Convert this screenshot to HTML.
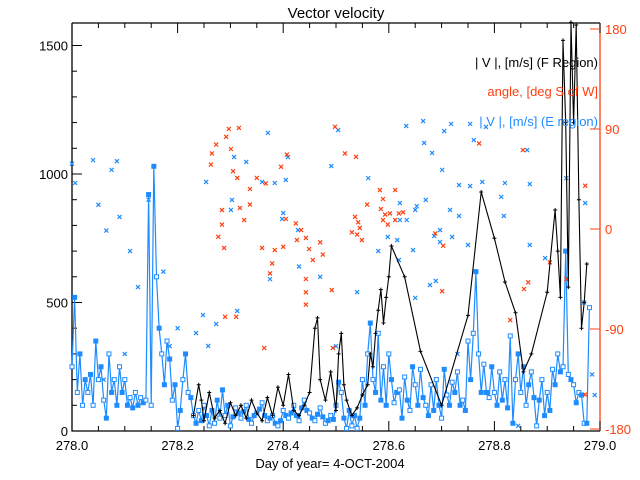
<!DOCTYPE html>
<html><head><meta charset="utf-8"><style>
body{margin:0;background:#fff;}
svg{display:block;font-family:"Liberation Sans",sans-serif;}
</style></head><body>
<svg id="c" width="640" height="480" xmlns="http://www.w3.org/2000/svg">
<rect width="640" height="480" fill="#fff"/>
<text x="336" y="18" font-size="15" text-anchor="middle">Vector velocity</text>
<text x="330" y="468" font-size="13" text-anchor="middle">Day of year= 4-OCT-2004</text>
<g id="axes"></g>
<g id="eline"></g>
<g id="bscat"></g>
<g id="rscat"></g>
<g id="fline"></g>
<g font-size="13">
<text x="598" y="67" text-anchor="end" fill="#000">| V |, [m/s] (F Region)</text>
<text x="598" y="96" text-anchor="end" fill="#ff4010">angle, [deg S of W]</text>
<text x="598" y="126" text-anchor="end" fill="#1e8cff">| V |, [m/s] (E region)</text>
</g>
</svg>
<script>
const eStart=278.0, eStep=0.005;
const eVals=[250,520,150,300,100,200,150,220,100,350,200,250,120,50,300,150,200,100,250,150,200,100,130,90,150,100,130,110,120,920,100,1030,600,400,300,180,350,280,120,180,10,80,200,300,150,130,60,30,80,40,100,60,20,80,30,120,50,160,60,100,20,55,90,70,50,75,100,45,30,60,70,85,110,60,40,50,60,30,20,40,80,60,50,70,100,60,40,90,120,80,70,50,40,65,90,55,30,40,60,45,100,190,150,50,10,80,20,60,10,50,200,100,300,420,200,150,380,120,250,100,300,200,110,150,160,50,210,120,80,250,180,100,240,130,100,60,180,80,200,100,50,240,140,100,190,150,230,100,120,80,350,200,380,620,300,150,260,150,130,250,150,100,230,120,200,90,370,30,200,300,150,250,100,180,230,130,20,120,200,60,150,80,240,180,300,230,250,700,220,200,180,110,150,140,30,30,480];
const fTimes=[278.23,278.24,278.245,278.25,278.26,278.27,278.28,278.29,278.30,278.31,278.32,278.33,278.34,278.35,278.36,278.37,278.38,278.39,278.40,278.41,278.42,278.43,278.44,278.45,278.46,278.465,278.47,278.48,278.49,278.50,278.505,278.51,278.515,278.52,278.53,278.54,278.55,278.56,278.565,278.57,278.575,278.58,278.585,278.59,278.595,278.60,278.605,278.63,278.66,278.70,278.75,278.775,278.80,278.82,278.84,278.855,278.87,278.90,278.915,278.92,278.925,278.93,278.935,278.94,278.945,278.95,278.955,278.96,278.965,278.97,278.975];
const fVals=[60,180,120,40,150,50,80,30,110,60,100,50,120,70,40,130,60,170,100,220,80,60,100,150,400,440,200,120,230,80,300,380,180,120,60,90,140,180,300,250,380,470,550,420,520,600,720,600,310,100,450,930,750,580,460,230,300,540,860,700,520,1520,1200,560,1590,1200,1580,900,400,500,650];
const bTimes=[278.000,278.006,278.04,278.05,278.065,278.075,278.085,278.09,278.11,278.125,278.145,278.173,278.185,278.20,278.235,278.248,278.254,278.258,278.273,278.301,278.303,278.307,278.313,278.330,278.360,278.371,278.375,278.384,278.398,278.400,278.405,278.409,278.428,278.491,278.504,278.561,278.598,278.616,278.619,278.621,278.621,278.633,278.634,278.646,278.650,278.650,278.653,278.665,278.667,278.670,278.678,278.682,278.686,278.689,278.697,278.697,278.701,278.705,278.716,278.718,278.720,278.733,278.733,278.750,278.754,278.754,278.761,278.777,278.784,278.813,278.818,278.820,278.862,278.867,278.867,278.896,278.936,278.972,278.97,278.985,278.99,278.10,278.06,278.73,278.50,278.54,278.845,278.43,278.47,278.58];
const bVals=[1040,965,1054,880,780,1016,1050,833,700,560,900,620,330,400,381,451,969,331,416,860,899,1066,467,1047,969,1160,591,965,825,848,977,1066,782,1031,1171,984,755,743,665,887,821,1187,821,704,518,860,875,1206,1121,899,568,1082,759,584,782,735,1016,1167,860,1195,755,957,837,724,1195,953,1132,969,1183,911,837,965,1093,961,724,673,984,887,500,220,140,300,200,300,330,540,20,640,600,700];
const rTimes=[278.297,278.316,278.292,278.273,278.301,278.265,278.263,278.305,278.313,278.350,278.367,278.337,278.396,278.407,278.337,278.284,278.318,278.284,278.326,278.405,278.277,278.288,278.424,278.434,278.426,278.443,278.470,278.449,278.475,278.456,278.384,278.360,278.379,278.400,278.375,278.290,278.311,278.443,278.443,278.443,278.492,278.494,278.364,278.498,278.583,278.589,278.559,278.517,278.538,278.612,278.589,278.536,278.542,278.545,278.530,278.540,278.549,278.585,278.593,278.602,278.612,278.598,278.619,278.627,278.771,278.854,278.688,278.703,278.972,278.936,278.864,278.856,278.701,278.830,278.905,278.972];
const rVals=[90,91,83,76,72,68,58,52,46,46,41,36,56,67,22,17,19,4,8,9,-7,-17,5,-1,-10,-8,-12,-18,-23,-28,-19,-17,-31,-16,-40,-79,-79,-45,-57,-68,-55,-107,-107,92,35,8,22,68,65,35,27,11,6,1,-3,-5,-10,18,13,14,8,4,14,15,77,71,-4,-15,39,-45,-48,-54,-56,-82,-30,-149];
const yTicks=[0,500,1000,1500], xTicks=["278.0","278.2","278.4","278.6","278.8","279.0"], aTicks=[-180,-90,0,90,180];

const NS="http://www.w3.org/2000/svg";
const X0=72,X1=600,Y0=431,YT=23;
const xs=t=>X0+(t-278)*(X1-X0);
const ys=v=>Y0-v*0.257;
const ya=a=>229-a*(400/360);
function mk(tag,attrs,parent){const e=document.createElementNS(NS,tag);for(const k in attrs)e.setAttribute(k,attrs[k]);parent.appendChild(e);return e;}
const ax=document.getElementById('axes');
let f=mk('path',{d:`M${X0} ${YT}V${Y0}H${X1}M${X0} ${YT}H${X1}`,stroke:'#000',fill:'none','stroke-width':1.3},ax);


let ra=mk('line',{x1:X1,y1:YT,x2:X1,y2:Y0,stroke:'#ff4010','stroke-width':1.3},ax);


for(let v=0;v<=1500;v+=100){const y=ys(v);const L=v%500==0?10:5;mk('line',{x1:X0,y1:y,x2:X0+L,y2:y,stroke:'#000'},ax);}
yTicks.forEach(v=>{const t=mk('text',{x:X0-4,y:ys(v)+5,'font-size':13,'text-anchor':'end'},ax);t.textContent=v;

});
for(let i=0;i<=20;i++){const x=X0+i*(X1-X0)/20;const L=i%4==0?10:5;mk('line',{x1:x,y1:Y0,x2:x,y2:Y0-L,stroke:'#000'},ax);mk('line',{x1:x,y1:YT,x2:x,y2:YT+L,stroke:'#000'},ax);}
xTicks.forEach((s,i)=>{const t=mk('text',{x:X0+i*(X1-X0)/5,y:Y0+19,'font-size':13,'text-anchor':'middle'},ax);t.textContent=s;

});
aTicks.forEach(a=>{const y=ya(a);mk('line',{x1:X1,y1:y,x2:X1-10,y2:y,stroke:'#ff4010'},ax);const t=mk('text',{x:X1+5,y:y+5,'font-size':13,fill:'#ff4010'},ax);t.textContent=a;

});
const eg=document.getElementById('eline');
let ep=eVals.map((v,i)=>`${xs(eStart+i*eStep).toFixed(1)},${ys(v).toFixed(1)}`).join(' ');
let el=mk('polyline',{points:ep,fill:'none',stroke:'#1e8cff','stroke-width':1.2},eg);


eVals.forEach((v,i)=>{const r=mk('rect',{x:xs(eStart+i*eStep)-2,y:ys(v)-2,width:4,height:4,fill:i%2?'#1e8cff':'#fff',stroke:'#1e8cff','stroke-width':1},eg);

});
function cross(g,x,y,c,name){const p=mk('path',{d:`M${x-2} ${y-2}L${x+2} ${y+2}M${x-2} ${y+2}L${x+2} ${y-2}`,stroke:c,'stroke-width':1.2},g);

}
const bg=document.getElementById('bscat');
bTimes.forEach((t,i)=>cross(bg,xs(t),ys(bVals[i]),'#1e8cff','e-region-scatter-point'));
const rg=document.getElementById('rscat');
rTimes.forEach((t,i)=>cross(rg,xs(t),ya(rVals[i]),'#ff4010','angle-point'));
const fg=document.getElementById('fline');
let fp=fTimes.map((t,i)=>`${xs(t).toFixed(1)},${ys(Math.min(fVals[i],1590)).toFixed(1)}`).join(' ');
let fl=mk('polyline',{points:fp,fill:'none',stroke:'#000','stroke-width':1.1},fg);


fTimes.forEach((t,i)=>{const x=xs(t),y=ys(Math.min(fVals[i],1590));const p=mk('path',{d:`M${x-2} ${y}H${x+2}M${x} ${y-2}V${y+2}`,stroke:'#000'},fg);

});
</script>
</body></html>
